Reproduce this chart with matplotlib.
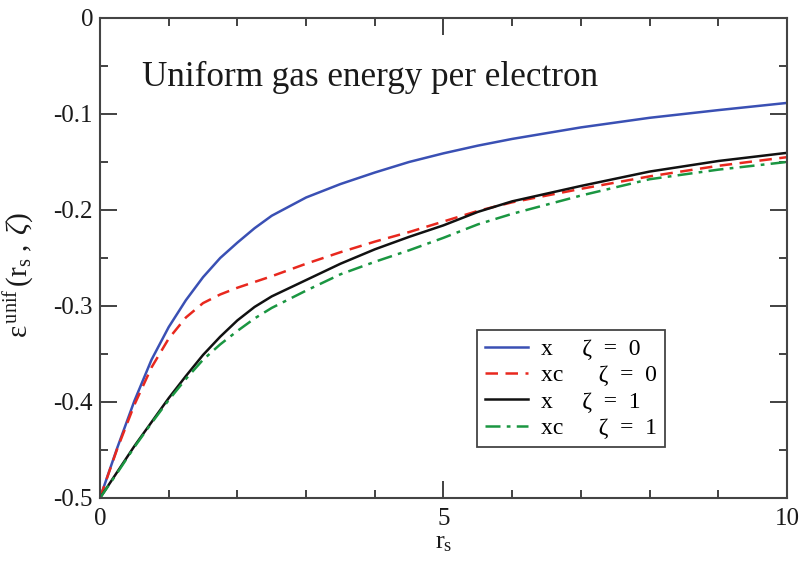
import matplotlib
matplotlib.use("Agg")
import matplotlib.pyplot as plt
from matplotlib.ticker import MultipleLocator

plt.rcParams['font.family'] = ['Liberation Serif', 'DejaVu Serif']
plt.rcParams['mathtext.fontset'] = 'custom'
plt.rcParams['mathtext.rm'] = 'Liberation Serif'
plt.rcParams['mathtext.it'] = 'Liberation Serif:italic'

rs = [0, 0.25, 0.5, 0.75, 1.0, 1.25, 1.5, 1.75, 2.0, 2.25, 2.5, 3.0, 3.5, 4.0,
      4.5, 5.0, 5.5, 6.0, 7.0, 8.0, 9.0, 10.0]

x_zeta0 = [-0.5, -0.448, -0.399, -0.356, -0.322, -0.294, -0.270, -0.250, -0.234,
           -0.219, -0.206, -0.187, -0.173, -0.161, -0.150, -0.141, -0.133,
           -0.126, -0.114, -0.104, -0.096, -0.0885]
xc_zeta0 = [-0.5, -0.449, -0.403, -0.364, -0.334, -0.312, -0.297, -0.288, -0.281,
            -0.275, -0.269, -0.256, -0.244, -0.233, -0.223, -0.212, -0.201,
            -0.192, -0.178, -0.165, -0.154, -0.145]
x_zeta1 = [-0.5, -0.473, -0.446, -0.421, -0.396, -0.373, -0.351, -0.332, -0.315,
           -0.301, -0.290, -0.273, -0.256, -0.241, -0.228, -0.216, -0.202,
           -0.191, -0.175, -0.160, -0.149, -0.1405]
xc_zeta1 = [-0.5, -0.474, -0.447, -0.422, -0.398, -0.376, -0.356, -0.340, -0.326,
            -0.313, -0.302, -0.284, -0.267, -0.254, -0.242, -0.229, -0.215,
            -0.204, -0.185, -0.168, -0.158, -0.150]

labels = ["x     \u03b6  =  0", "xc      \u03b6  =  0", "x     \u03b6  =  1", "xc      \u03b6  =  1"]
yticks = [0, -0.1, -0.2, -0.3, -0.4, -0.5]
ytick_labels = ["0", "-0.1", "-0.2", "-0.3", "-0.4", "-0.5"]
xticks = [0, 5, 10]
xtick_labels = ["0", "5", "10"]

fig = plt.figure(figsize=(8.09, 5.61), dpi=100)
ax = fig.add_axes([0.1236, 0.1123, 0.8492, 0.8557])

ax.plot(rs, x_zeta0, color='#3a50b4', lw=1.8, ls='-', label=labels[0])
ax.plot(rs, xc_zeta0, color='#e8281e', lw=1.8, ls=(0, (5, 3)), label=labels[1])
ax.plot(rs, x_zeta1, color='#111111', lw=1.8, ls='-', label=labels[2])
ax.plot(rs, xc_zeta1, color='#1a9641', lw=1.8, ls=(0, (6, 2.5, 1.5, 2.5)), label=labels[3])

ax.set_xlim(0, 10)
ax.set_ylim(-0.5, 0)
ax.set_xticks(xticks)
ax.set_xticklabels(xtick_labels)
ax.set_yticks(yticks)
ax.set_yticklabels(ytick_labels)
ax.xaxis.set_minor_locator(MultipleLocator(1))
ax.yaxis.set_minor_locator(MultipleLocator(0.05))
ax.tick_params(which='both', direction='in', top=True, right=True,
               labelsize=18, colors='#333333', labelcolor='#1a1a1a', width=1.3)
ax.tick_params(which='major', length=12)
ax.tick_params(axis='x', which='major', pad=7)
ax.tick_params(axis='y', which='major', pad=5)
ax.tick_params(which='minor', length=6)
for s in ax.spines.values():
    s.set_linewidth(1.5)
    s.set_color('#444444')

ax.set_xlabel(r'r$_\mathrm{s}$', fontsize=19, labelpad=2, color='#1a1a1a')
ax.set_ylabel(r'$\mathrm{\varepsilon}^{\,\mathrm{unif}}\,(\mathrm{r_s}\;,\;\zeta)$',
              fontsize=21, color='#1a1a1a')
ax.yaxis.set_label_coords(-0.093, 0.465)

ax.text(0.061, 0.858, 'Uniform gas energy per electron', transform=ax.transAxes,
        fontsize=25.3, color='#1a1a1a', va='baseline', ha='left')

leg = ax.legend(loc='lower left', bbox_to_anchor=(0.549, 0.106), borderaxespad=0,
                fontsize=17, frameon=True, fancybox=False, handlelength=1.8,
                borderpad=0.35, labelspacing=0.2, handletextpad=0.55)
leg.get_frame().set_edgecolor('#444444')
leg.get_frame().set_linewidth(1.3)
leg.get_frame().set_alpha(1)

fig.savefig('out.png', dpi=100)
